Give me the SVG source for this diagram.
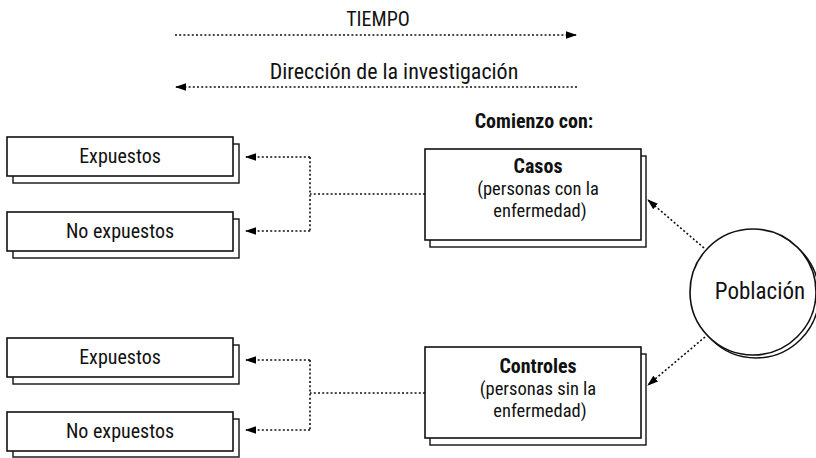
<svg xmlns="http://www.w3.org/2000/svg" width="816" height="458" viewBox="0 0 816 458">
<defs>
<marker id="ah" markerWidth="11" markerHeight="9" refX="10" refY="4.5" orient="auto" markerUnits="userSpaceOnUse">
<path d="M0,0.8 L11,4.5 L0,8.2 Z" fill="#000"/>
</marker>
<style>
text{font-family:"Liberation Sans Narrow","Roboto Condensed","Liberation Sans",sans-serif;fill:#111;text-anchor:middle}
.t{font-size:20px}
.s{font-size:18.5px}
.b{font-weight:bold}
.box{fill:#fff;stroke:#111;stroke-width:1.6}
.sh{fill:#fff;stroke:#111;stroke-width:1.4}
.dot{fill:none;stroke:#111;stroke-width:1.6;stroke-dasharray:2 2.2}
</style>
</defs>
<rect width="816" height="458" fill="#fff"/>
<g id="header">
<text class="t" x="378" y="26">TIEMPO</text>
<text x="394" y="79" style="font-size:22px">Dirección de la investigación</text>
<text class="t b" x="534" y="128">Comienzo con:</text>
</g>
<g id="connectors">
<path class="dot" d="M175,35 H576" marker-end="url(#ah)"/>
<path class="dot" d="M577,87 H176" marker-end="url(#ah)"/>
<path class="dot" d="M425,194 H310"/>
<path class="dot" d="M310,157 V231"/>
<path class="dot" d="M310,157 H246" marker-end="url(#ah)"/>
<path class="dot" d="M310,231 H246" marker-end="url(#ah)"/>
<path class="dot" d="M425,393 H310"/>
<path class="dot" d="M310,360 V430"/>
<path class="dot" d="M310,360 H246" marker-end="url(#ah)"/>
<path class="dot" d="M310,430 H246" marker-end="url(#ah)"/>
<path class="dot" d="M704,248 L648,200" marker-end="url(#ah)"/>
<path class="dot" d="M705,337 L648,385" marker-end="url(#ah)"/>
</g>
<g id="expuestos1">
<rect class="sh" x="13" y="144" width="226" height="39"/>
<rect class="box" x="7" y="137" width="226" height="39"/>
<text class="t" x="120" y="163">Expuestos</text>
</g>
<g id="noexpuestos1">
<rect class="sh" x="13" y="219" width="226" height="39"/>
<rect class="box" x="7" y="212" width="226" height="39"/>
<text class="t" x="120" y="238">No expuestos</text>
</g>
<g id="expuestos2">
<rect class="sh" x="13" y="345" width="226" height="39"/>
<rect class="box" x="7" y="338" width="226" height="39"/>
<text class="t" x="120" y="364">Expuestos</text>
</g>
<g id="noexpuestos2">
<rect class="sh" x="13" y="419" width="226" height="38"/>
<rect class="box" x="7" y="412" width="226" height="39"/>
<text class="t" x="120" y="438">No expuestos</text>
</g>
<g id="casos">
<rect class="sh" x="430" y="156" width="216" height="91"/>
<rect class="box" x="425" y="149" width="216" height="91"/>
<text class="t b" x="538" y="173">Casos</text>
<text class="s" x="538" y="195">(personas con la</text>
<text class="s" x="540" y="217">enfermedad)</text>
</g>
<g id="controles">
<rect class="sh" x="430" y="354" width="216" height="91"/>
<rect class="box" x="425" y="347" width="216" height="91"/>
<text class="t b" x="538" y="373">Controles</text>
<text class="s" x="538" y="395">(personas sin la</text>
<text class="s" x="540" y="417">enfermedad)</text>
</g>
<g id="poblacion">
<circle class="sh" cx="756" cy="295" r="63"/>
<circle class="box" cx="753" cy="292" r="63"/>
<text x="760" y="299" style="font-size:23px">Población</text>
</g>
</svg>
